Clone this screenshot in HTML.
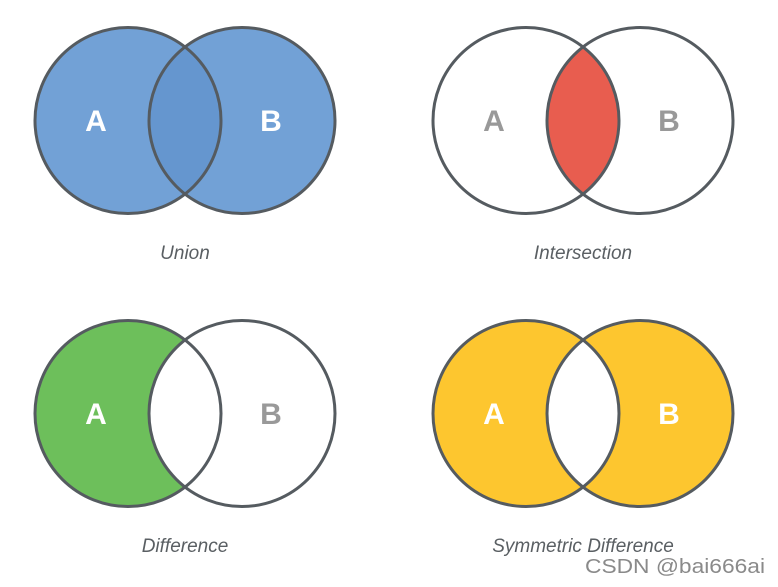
<!DOCTYPE html>
<html><head><meta charset="utf-8"><style>html,body{margin:0;padding:0;background:#fff}</style></head>
<body>
<svg width="778" height="582" viewBox="0 0 778 582" xmlns="http://www.w3.org/2000/svg">
<defs>
<clipPath id="cA1"><circle cx="128" cy="120.5" r="93"/></clipPath>
<clipPath id="cA2"><circle cx="526" cy="120.5" r="93"/></clipPath>
<clipPath id="cA3"><circle cx="128" cy="413.5" r="93"/></clipPath>
<clipPath id="cA4"><circle cx="526" cy="413.5" r="93"/></clipPath>
</defs>
<g stroke="#555b60" stroke-width="3">
<circle cx="128" cy="120.5" r="93" fill="#72a1d6" stroke="none"/>
<circle cx="242" cy="120.5" r="93" fill="#72a1d6" stroke="none"/>
<circle cx="242" cy="120.5" r="93" fill="#6596cf" stroke="none" clip-path="url(#cA1)"/>
<circle cx="128" cy="120.5" r="93" fill="none"/>
<circle cx="242" cy="120.5" r="93" fill="none"/>
<circle cx="640" cy="120.5" r="93" fill="#e85d4f" stroke="none" clip-path="url(#cA2)"/>
<circle cx="526" cy="120.5" r="93" fill="none"/>
<circle cx="640" cy="120.5" r="93" fill="none"/>
<circle cx="128" cy="413.5" r="93" fill="#6dbf5b" stroke="none"/>
<circle cx="242" cy="413.5" r="93" fill="#fff" stroke="none" clip-path="url(#cA3)"/>
<circle cx="128" cy="413.5" r="93" fill="none"/>
<circle cx="242" cy="413.5" r="93" fill="none"/>
<circle cx="526" cy="413.5" r="93" fill="#fdc62f" stroke="none"/>
<circle cx="640" cy="413.5" r="93" fill="#fdc62f" stroke="none"/>
<circle cx="640" cy="413.5" r="93" fill="#fff" stroke="none" clip-path="url(#cA4)"/>
<circle cx="526" cy="413.5" r="93" fill="none"/>
<circle cx="640" cy="413.5" r="93" fill="none"/>
</g>
<g font-family="Liberation Sans, sans-serif" font-weight="bold" font-size="30" text-anchor="middle">
<text x="96" y="131" fill="#fff">A</text>
<text x="271" y="131" fill="#fff">B</text>
<text x="494" y="131" fill="#999">A</text>
<text x="669" y="131" fill="#999">B</text>
<text x="96" y="424" fill="#fff">A</text>
<text x="271" y="424" fill="#999">B</text>
<text x="494" y="424" fill="#fff">A</text>
<text x="669" y="424" fill="#fff">B</text>
</g>
<g font-family="Liberation Sans, sans-serif" font-style="italic" font-size="19" fill="#5a5f63" text-anchor="middle">
<text x="185" y="259">Union</text>
<text x="583" y="259">Intersection</text>
<text x="185" y="552">Difference</text>
<text x="583" y="552">Symmetric Difference</text>
</g>
<text x="585" y="573" font-family="Liberation Sans, sans-serif" font-size="20" textLength="180" lengthAdjust="spacingAndGlyphs" fill="#8a8a8a">CSDN @bai666ai</text>
</svg>
</body></html>
